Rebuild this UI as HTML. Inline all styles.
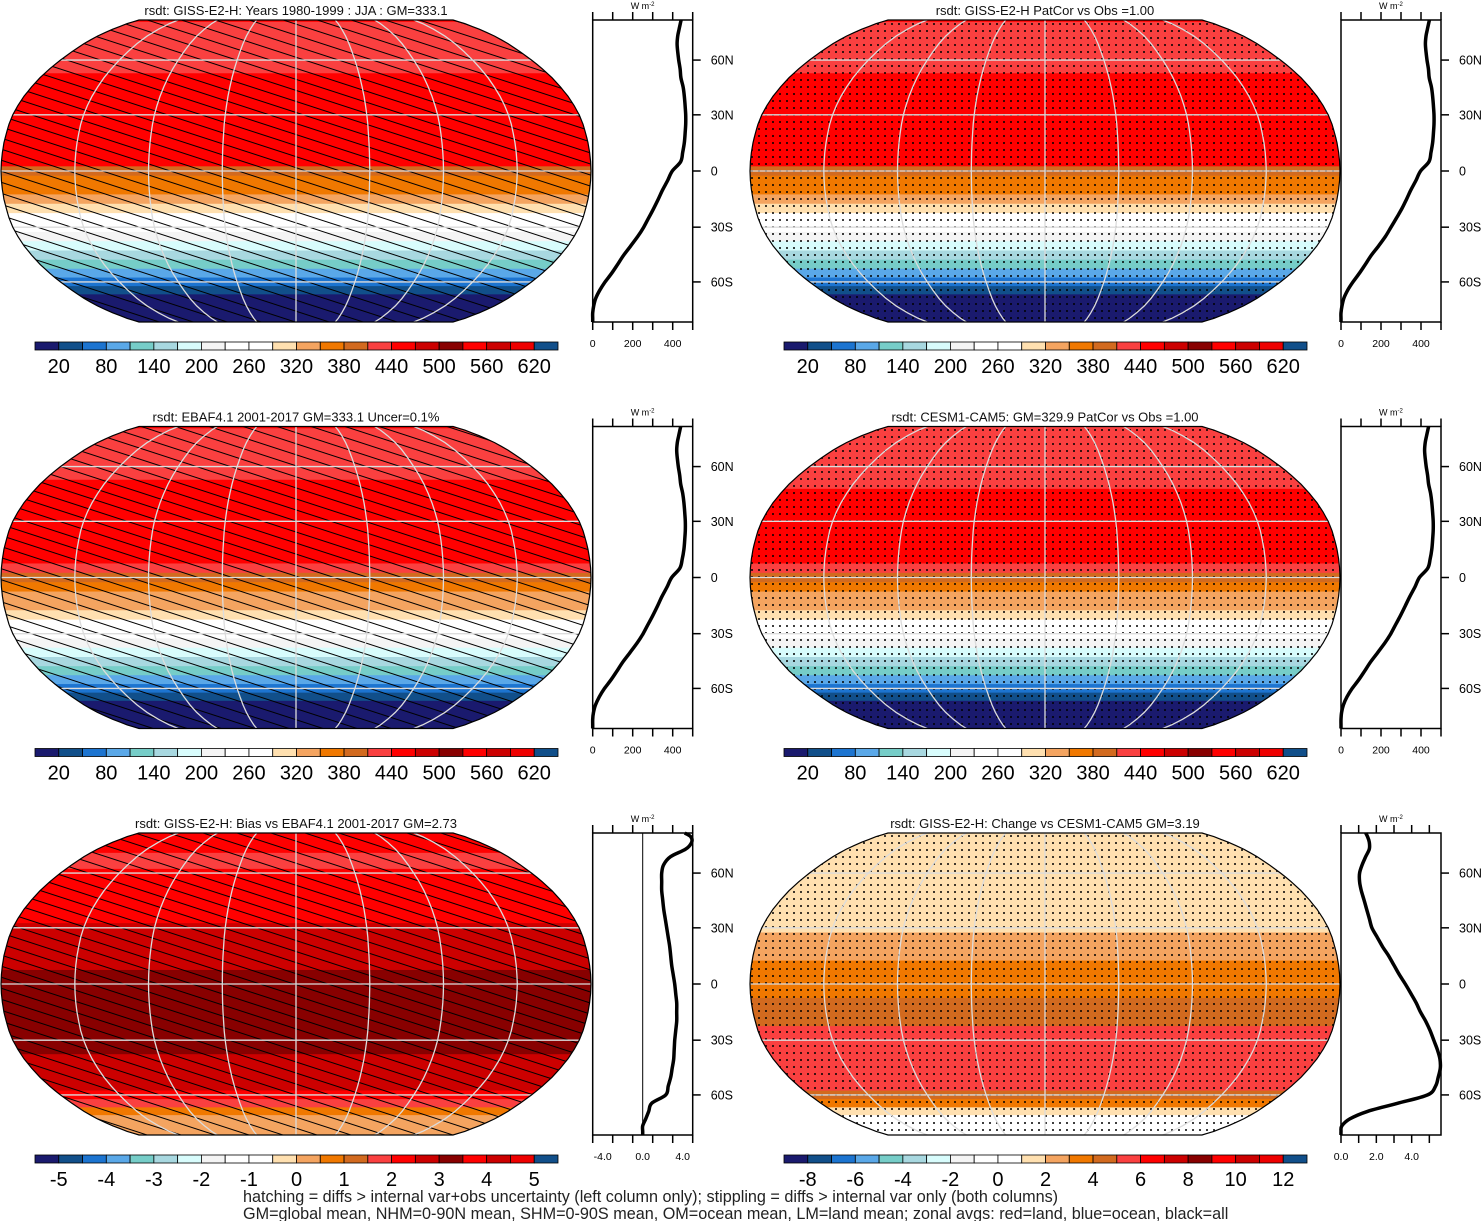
<!DOCTYPE html>
<html><head><meta charset="utf-8"><style>
html,body{margin:0;padding:0;background:#fff;}
svg{display:block;font-family:"Liberation Sans",Arial,sans-serif;}
</style></head><body>
<svg id="fig" width="1483" height="1221" viewBox="0 0 1483 1221" xmlns="http://www.w3.org/2000/svg">
<defs>
<pattern id="hatch" patternUnits="userSpaceOnUse" width="40" height="10.5" patternTransform="rotate(18)">
<line x1="0" y1="5" x2="40" y2="5" stroke="#000" stroke-width="1"/>
</pattern>
<pattern id="stip" patternUnits="userSpaceOnUse" width="7" height="7">
<circle cx="3" cy="3" r="1" fill="#000"/>
</pattern>
</defs>
<g id="root"></g>
<text x="243" y="1202" font-size="16.2" fill="#222">hatching = diffs &gt; internal var+obs uncertainty (left column only); stippling = diffs &gt; internal var only (both columns)</text>
<text x="243" y="1219" font-size="16.2" fill="#222">GM=global mean, NHM=0-90N mean, SHM=0-90S mean, OM=ocean mean, LM=land mean; zonal avgs: red=land, blue=ocean, black=all</text>
</svg>
<script>
// latitudes 90N..90S at 5 degree steps
const lats = [90,85,80,75,70,65,60,55,50,45,40,35,30,25,20,15,10,5,0,-5,-10,-15,-20,-25,-30,-35,-40,-45,-50,-55,-60,-65,-70,-75,-80,-85,-90];
const gissJJA = [442,438,432,425,422,425,430,437,441,452,458,462,465,465,462,458,450,440,398,375,350,328,305,280,255,225,190,155,125,95,62,35,15,5,0,0,0];
const gissAnn = [442,438,432,425,422,425,430,437,441,452,458,462,465,465,462,458,450,440,398,375,350,328,305,278,250,222,188,152,122,92,60,33,14,5,0,0,0];
const ebafJJA = [440,436,430,423,420,423,428,435,440,450,456,460,463,463,460,456,448,436,395,372,347,325,302,277,252,222,187,152,122,92,59,33,14,4,0,0,0];
const cesmAnn = [438,434,428,421,418,421,426,433,438,448,454,458,461,461,458,454,446,434,392,370,345,322,299,274,249,219,184,149,119,89,56,30,12,3,0,0,0];
const biasMap = [2.3,2.3,2.3,2.3,1.8,1.8,2.1,2.1,2.2,2.3,2.3,2.4,2.5,2.6,2.7,2.8,2.9,3.0,3.1,3.2,3.2,3.3,3.3,3.2,3.1,3.0,2.9,2.8,2.7,2.6,2.4,1.5,0.6,0.3,0.2,0.1,0.0];
const biasZonal = [4.2,4.8,4.9,4.3,2.8,2.1,1.9,1.9,1.9,2.0,2.1,2.25,2.4,2.55,2.7,2.8,2.9,3.05,3.2,3.3,3.4,3.4,3.4,3.3,3.2,3.15,3.1,2.95,2.8,2.55,2.3,0.9,0.6,0.3,0.0,0.0,0.0];
const changeVals = [1.4,1.5,1.6,1.6,1.4,1.2,1.05,1.05,1.15,1.3,1.45,1.6,1.75,2.05,2.35,2.7,3.0,3.3,3.64,3.95,4.25,4.5,4.8,5.05,5.25,5.45,5.6,5.62,5.5,5.35,4.9,3.2,1.5,0.5,0.05,0,0];
const rsdtCbLabels = ["20","80","140","200","260","320","380","440","500","560","620"];
const biasCbLabels = ["-5","-4","-3","-2","-1","0","1","2","3","4","5"];
const changeCbLabels = ["-8","-6","-4","-2","0","2","4","6","8","10","12"];
const rsdtZTicks = ["0","200","400"];
const biasZTicks = ["-4.0","0.0","4.0"];
const changeZTicks = ["0.0","2.0","4.0"];
const latTickNames = ["60N","30N","0","30S","60S"];
const latTickVals = [60,30,0,-30,-60];

const cbColors = ["#1a1a6e","#114f8a","#1c74d0","#5aa8e8","#76cdc8","#a8d8e0","#d8fcfc","#f4f4f4","#ffffff","#ffffff","#ffe0b0","#f4a460","#f07800","#d26a1f","#fa4040","#ff0000","#cc0000","#880000","#ff0000","#cc0000","#ee0000","#114f8a"];
const PLEN=[1,0.9986,0.9954,0.99,0.9822,0.973,0.96,0.9427,0.9216,0.8962,0.8679,0.835,0.7986,0.7597,0.7186,0.6732,0.6213,0.5722,0.5322];
const PDFE=[0,0.062,0.124,0.186,0.248,0.31,0.372,0.434,0.4958,0.5571,0.6176,0.6769,0.7346,0.7903,0.8435,0.8936,0.9394,0.9761,1];
function rob(lat){const a=Math.min(90,Math.abs(lat))/5;const i=Math.min(17,Math.floor(a));const f=a-i;
 return [PLEN[i]+(PLEN[i+1]-PLEN[i])*f,(PDFE[i]+(PDFE[i+1]-PDFE[i])*f)*Math.sign(lat)];}
const NS="http://www.w3.org/2000/svg";
const root=document.getElementById('root');
function el(t,a,p){const e=document.createElementNS(NS,t);for(const k in a)e.setAttribute(k,a[k]);(p||root).appendChild(e);return e;}
function levelsFrom(first,step){const L=[];for(let i=0;i<21;i++)L.push(first+i*step);return L;}
function colorOf(v,L){let i=0;while(i<L.length&&v>=L[i])i++;return cbColors[i];}
function smooth(P){let d='M'+P[0][0].toFixed(1)+','+P[0][1].toFixed(1);
 for(let i=0;i<P.length-1;i++){const p0=P[Math.max(0,i-1)],p1=P[i],p2=P[i+1],p3=P[Math.min(P.length-1,i+2)];
  const c1=[p1[0]+(p2[0]-p0[0])/6,p1[1]+(p2[1]-p0[1])/6],c2=[p2[0]-(p3[0]-p1[0])/6,p2[1]-(p3[1]-p1[1])/6];
  d+='C'+c1[0].toFixed(1)+','+c1[1].toFixed(1)+' '+c2[0].toFixed(1)+','+c2[1].toFixed(1)+' '+p2[0].toFixed(1)+','+p2[1].toFixed(1);}
 return d;}

function panel(o){
 const W=295,H=151,cx=o.cx,cy=o.cy;
 const g=el('g',{});
 
 
 const X=(lon,lat)=>cx+rob(lat)[0]*W*lon/180, Y=lat=>cy-rob(lat)[1]*H;
 let d='';for(let la=90;la>=-90;la-=2.5){d+=(la===90?'M':'L')+X(180,la).toFixed(1)+','+Y(la).toFixed(1);}
 for(let la=-90;la<=90;la+=2.5){d+='L'+X(-180,la).toFixed(1)+','+Y(la).toFixed(1);}d+='Z';
 const cid='clip-'+o.id;const cp=el('clipPath',{id:cid},g);el('path',{d:d},cp);
 const mg=el('g',{'clip-path':'url(#'+cid+')'},g);
 
 
 o.vals.forEach((v,i)=>{const la=lats[i];const y1=Y(Math.min(90,la+2.5)),y2=Y(Math.max(-90,la-2.5));
  const r=el('rect',{x:cx-W-5,y:y1-(la===90?10:0),width:2*W+10,height:y2-y1+(la===90||la===-90?10:0)+0.6,fill:colorOf(v,o.L)},mg);
  
  });
 el('rect',{x:cx-W,y:cy-H-2,width:2*W,height:2*H+4,fill:'url(#'+o.pat+')'},mg);
 for(let lon=-135;lon<=135;lon+=45){
  let p='';for(let la=90;la>=-90;la-=5)p+=(la===90?'M':'L')+X(lon,la).toFixed(1)+','+Y(la).toFixed(1);
  el('path',{d:p,fill:'none',stroke:'#dcdcdc','stroke-width':1.3},mg);}
 [60,30,0,-30,-60].forEach(la=>el('line',{x1:cx-W,x2:cx+W,y1:Y(la),y2:Y(la),stroke:'#dcdcdc','stroke-width':1.3},mg));
 el('path',{d:d,fill:'none',stroke:'#000','stroke-width':1.2},g);
 const t=el('text',{x:cx,y:cy-H-5,'text-anchor':'middle','font-size':13,fill:'#111'},g);t.textContent=o.title;
 
 
 const cbx=o.cbx,cbw=523,bw=cbw/22,cby=cy+H+20;
 const cb=el('g',{},g);
 
 
 cbColors.forEach((c,i)=>el('rect',{x:cbx+i*bw,y:cby,width:bw,height:8,fill:c,stroke:'#000','stroke-width':0.8},cb));
 o.cbl.forEach((s,k)=>{const tt=el('text',{x:cbx+(1+2*k)*bw,y:cby+31,'text-anchor':'middle','font-size':20,fill:'#000'},cb);tt.textContent=s;});
 const zx=o.zx,zw=100,zt=Y(90),zb=Y(-90);
 const zg=el('g',{},g);
 
 
 const XS=v=>zx+(v-o.zmin)/(o.zmax-o.zmin)*zw;
 el('rect',{x:zx,y:zt,width:zw,height:zb-zt,fill:'none',stroke:'#000','stroke-width':1.5},zg);
 for(let v=o.tick0;v<=o.zmax+1e-6;v+=o.tstep){const xx=XS(v);el('line',{x1:xx,x2:xx,y1:zt,y2:zt-8,stroke:'#000','stroke-width':1.5},zg);el('line',{x1:xx,x2:xx,y1:zb,y2:zb+8,stroke:'#000','stroke-width':1.5},zg);}
 o.zt.forEach((s,k)=>{const v=o.ztv[k];const tt=el('text',{x:XS(v),y:zb+25,'text-anchor':'middle','font-size':10.5,fill:'#000'},zg);tt.textContent=s;});
 latTickVals.forEach((la,k)=>{el('line',{x1:zx+zw,x2:zx+zw+8,y1:Y(la),y2:Y(la),stroke:'#000','stroke-width':1.5},zg);
  const tt=el('text',{x:zx+zw+18,y:Y(la)+4.5,'font-size':12.5,fill:'#000'},zg);tt.textContent=latTickNames[k];});
 const u=el('text',{x:zx+38,y:zt-11,'font-size':9,fill:'#000'},zg);u.innerHTML='W m<tspan dy="-3" font-size="6">-2</tspan>';
 if(o.zmin<0)el('line',{x1:XS(0),x2:XS(0),y1:zt,y2:zb,stroke:'#000','stroke-width':1},zg);
 const zv=o.zvals||o.vals;
 const P=zv.map((v,i)=>[XS(Math.max(o.zmin,Math.min(o.zmax,v))),Y(lats[i])]);
 const pl=el('path',{d:smooth(P),fill:'none',stroke:'#000','stroke-width':3.5,'stroke-linejoin':'round'},zg);
 
 
}
const LR=levelsFrom(20,30),LB=levelsFrom(-5,0.5),LC=levelsFrom(-8,1);
const R={zmin:0,zmax:500,tick0:0,tstep:100,zt:rsdtZTicks,ztv:[0,200,400]};
panel(Object.assign({id:'giss-jja',cx:296,cy:171,title:'rsdt: GISS-E2-H: Years 1980-1999 : JJA : GM=333.1',vals:gissJJA,L:LR,pat:'hatch',cbx:35,cbl:rsdtCbLabels,zx:592.7},R));
panel(Object.assign({id:'giss-patcor',cx:1045,cy:171,title:'rsdt: GISS-E2-H PatCor vs Obs =1.00',vals:gissAnn,L:LR,pat:'stip',cbx:784,cbl:rsdtCbLabels,zx:1341},R));
panel(Object.assign({id:'ebaf',cx:296,cy:577.5,title:'rsdt: EBAF4.1 2001-2017 GM=333.1 Uncer=0.1%',vals:ebafJJA,L:LR,pat:'hatch',cbx:35,cbl:rsdtCbLabels,zx:592.7},R));
panel(Object.assign({id:'cesm',cx:1045,cy:577.5,title:'rsdt: CESM1-CAM5: GM=329.9 PatCor vs Obs =1.00',vals:cesmAnn,L:LR,pat:'stip',cbx:784,cbl:rsdtCbLabels,zx:1341},R));
panel({id:'bias',cx:296,cy:984,title:'rsdt: GISS-E2-H: Bias vs EBAF4.1 2001-2017 GM=2.73',vals:biasMap,zvals:biasZonal,L:LB,pat:'hatch',cbx:35,cbl:biasCbLabels,zx:592.7,zmin:-5,zmax:5,tick0:-5,tstep:2,zt:biasZTicks,ztv:[-4,0,4]});
panel({id:'change',cx:1045,cy:984,title:'rsdt: GISS-E2-H: Change vs CESM1-CAM5 GM=3.19',vals:changeVals,L:LC,pat:'stip',cbx:784,cbl:changeCbLabels,zx:1341,zmin:0,zmax:5.66,tick0:0,tstep:1,zt:changeZTicks,ztv:[0,2,4]});
</script>
</body></html>
